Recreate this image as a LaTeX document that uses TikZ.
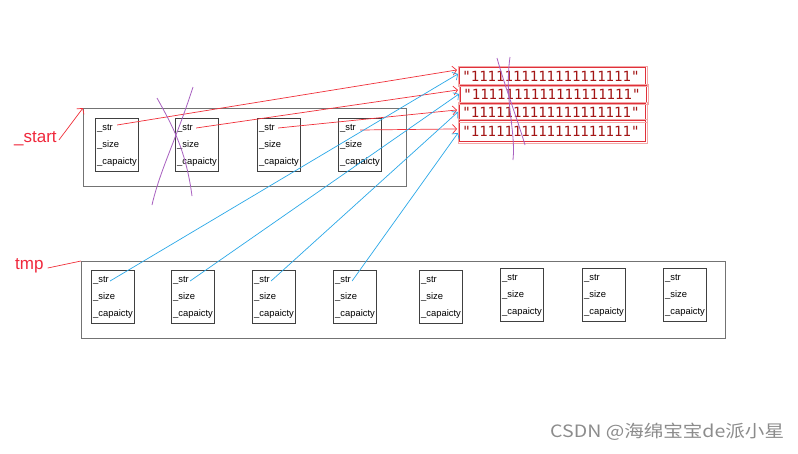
\documentclass[tikz,border=0pt]{standalone}
\usepackage{fontspec}
\setmainfont{Liberation Sans}
\newfontfamily\cjk{Noto Sans CJK SC}
\newfontfamily\codefont{DejaVu Sans Mono}
\usetikzlibrary{arrows.meta,calc}
\definecolor{redline}{HTML}{F0303A}
\definecolor{blueline}{HTML}{2AA8E8}
\definecolor{purp}{HTML}{A860C0}
\definecolor{strred}{HTML}{A31515}
\definecolor{boxred}{HTML}{E0303A}
\definecolor{boxpink}{HTML}{F4A8A8}
\definecolor{lblred}{HTML}{F0283C}
\newcommand\mkobj[3]{%
  \node[objbox, anchor=north west] (#1) at (#2,#3) {};
  \node[field] (#1s) at (#2+2,#3+10) {\_str};
  \node[field] (#1z) at (#2+2,#3+27) {\_size};
  \node[field] (#1c) at (#2+2,#3+44) {\_capaicty};
}
\begin{document}
\begin{tikzpicture}[x=1pt,y=-1pt,
  field/.style={font=\fontsize{9.4}{10}\selectfont, anchor=west, inner sep=0pt},
  objbox/.style={draw=black!75, line width=0.9pt, minimum width=43pt, minimum height=53pt, inner sep=0pt},
  outerbox/.style={draw=black!55, line width=1.3pt, inner sep=0pt, anchor=north west},
  strbox/.style={draw=boxred, line width=0.9pt, anchor=north west, inner xsep=3pt, inner ysep=0pt,
     text width=180pt, align=left, minimum height=17pt, text=strred, font=\codefont\fontsize{14}{14}\selectfont},
  redarr/.style={draw=redline, line width=0.7pt, -{Straight Barb[length=4pt,width=9pt]}},
  bluearr/.style={draw=blueline, line width=0.7pt, -{Straight Barb[length=4pt,width=9pt]}},
  crossmark/.style={draw=purp, line width=0.8pt},
  biglbl/.style={text=lblred, font=\fontsize{17}{17}\selectfont, anchor=west, inner sep=0pt}]
\useasboundingbox[fill=white] (0,0) rectangle (798,453);

% outer boxes
\node[outerbox, minimum width=323pt, minimum height=78pt] (T) at (83,108) {};
\node[outerbox, minimum width=644pt, minimum height=77pt] (B) at (81,261) {};

% top objects
\mkobj{a1}{95}{118}
\mkobj{a2}{175}{118}
\mkobj{a3}{257}{118}
\mkobj{a4}{338}{118}

% bottom objects
\mkobj{b1}{91}{270}
\mkobj{b2}{171}{270}
\mkobj{b3}{252}{270}
\mkobj{b4}{333}{270}
\mkobj{b5}{419}{270}
\mkobj{b6}{500}{268}
\mkobj{b7}{582}{268}
\mkobj{b8}{663}{268}

% strings
\node[strbox] (s1) at (459,67) {"1111111111111111111"};
\node[strbox] (s2) at (460,85) {"1111111111111111111"};
\node[strbox] (s3) at (459,103) {"1111111111111111111"};
\node[strbox, minimum height=21pt] (s4) at (459,120) {"1111111111111111111"};
\foreach \s in {s1,s2,s3,s4}{
  \draw[boxpink, line width=0.8pt] ($(\s.north west)+(-1,-1)$) rectangle ($(\s.south east)+(1,1)$);
}

% labels
\node[biglbl] (startlbl) at (14,139) {\_start};
\node[biglbl] (tmplbl) at (15,266) {tmp};
\draw[redarr] ($(startlbl.east)+(2,1)$) -- (T.north west);
\draw[draw=redline, line width=0.7pt] ($(tmplbl.east)+(4,2)$) -- (B.north west);

% red pointers
\draw[redarr] ($(a1s.east)+(4,-3)$) -- ($(s1.west)+(-2,-6)$);
\draw[redarr] ($(a2s.east)+(3,0)$) -- ($(s2.west)+(-2,-4)$);
\draw[redarr] ($(a3s.east)+(3,0)$) -- ($(s3.west)+(-2,-2)$);
\draw[redarr] ($(a4s.east)+(4,2)$) -- ($(s4.west)+(-2,-2)$);

% blue pointers
\draw[bluearr] ($(b1s.east)+(1,1)$) -- ($(s1.west)+(-1,-2)$);
\draw[bluearr] ($(b2s.east)+(1,1)$) -- ($(s2.west)+(-1,0)$);
\draw[bluearr] ($(b3s.east)+(1,1)$) -- ($(s3.west)+(-1,0)$);
\draw[bluearr] ($(b4s.east)+(1,1)$) -- ($(s4.west)+(-1,2)$);

% purple cross-outs
\draw[crossmark] (157,98) .. controls (172,125) and (186,150) .. (192,196);
\draw[crossmark] (193,87) .. controls (176,140) and (160,170) .. (152,205);
\draw[crossmark] (497,58) .. controls (506,90) and (516,115) .. (525,145);
\draw[crossmark] (510,57) .. controls (504,100) and (516,130) .. (513,160);

% watermark
\node[anchor=west, text=black!45, font=\cjk\fontsize{17}{17}\selectfont, inner sep=0pt, xscale=1.15] (wm) at (550,432) {CSDN @海绵宝宝de派小星};
\end{tikzpicture}
\end{document}
